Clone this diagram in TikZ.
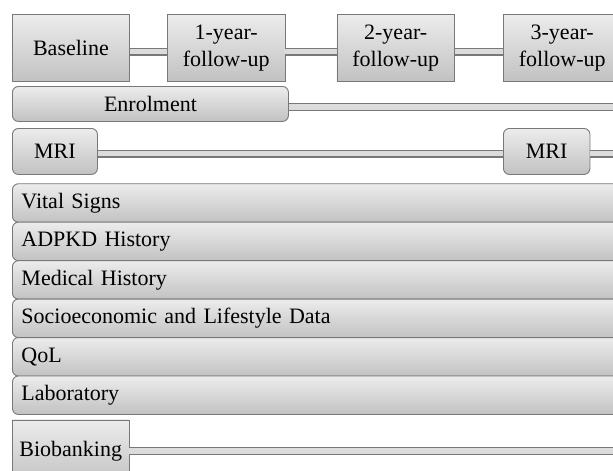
\documentclass[tikz,border=0pt]{standalone}
\usepackage{fontspec}
\setmainfont{Liberation Serif}
\definecolor{boxtop}{RGB}{236,236,236}
\definecolor{boxbot}{RGB}{194,194,194}
\definecolor{boxline}{RGB}{120,120,120}
\definecolor{barfill}{RGB}{220,220,220}
\begin{document}
\begin{tikzpicture}[x=1pt,y=-1pt,
  gbox/.style={draw=boxline, line width=0.9pt, top color=boxtop, bottom color=boxbot,
    anchor=north west, inner sep=0pt, align=center,
    font=\fontsize{22}{27}\selectfont},
  sqbox/.style={gbox},
  rbox/.style={gbox, rounded corners=6pt},
  rowbox/.style={gbox, rounded corners=6pt, text width=610pt, inner xsep=9pt, align=left,
    minimum height=38.5pt},
  bar/.style={draw=boxline, line width=1.3pt, double=barfill, double distance=5.4pt}
]
\useasboundingbox (0,0) rectangle (613,471);
\clip (0,0) rectangle (613,471);

% time points
\node[sqbox, minimum width=117pt, minimum height=66.5pt] (base) at (12,14) {Baseline};
\node[sqbox, minimum width=117.5pt, minimum height=66.5pt] (y1) at (167,14) {1-year-\\follow-up};
\node[sqbox, minimum width=117.5pt, minimum height=66.5pt] (y2) at (336.5,14) {2-year-\\follow-up};
\node[sqbox, minimum width=117.5pt, minimum height=66.5pt] (y3) at (503,14) {3-year-\\follow-up};

% enrolment
\node[rbox, minimum width=276pt, minimum height=35pt] (enrol) at (12,86) {Enrolment};
\coordinate (enrolEnd) at (630,107);

% MRI
\node[rbox, minimum width=85pt, minimum height=46pt] (mri1) at (12,128) {MRI};
\node[rbox, minimum width=86.5pt, minimum height=46pt] (mri2) at (503,128) {MRI};
\coordinate (mriEnd) at (630,153.5);

% rows
\node[rowbox] (vital) at (12,183.3) {Vital Signs};
\node[rowbox] (adpkd) at (12,221.7) {ADPKD History};
\node[rowbox] (medical) at (12,260.2) {Medical History};
\node[rowbox] (socio) at (12,298.6) {Socioeconomic and Lifestyle Data};
\node[rowbox] (qol) at (12,337.1) {QoL};
\node[rowbox] (lab) at (12,375.5) {Laboratory};

% biobanking
\node[sqbox, minimum width=116.5pt, minimum height=63pt] (bio) at (12,419.5) {Biobanking};
\coordinate (bioEnd) at (630,451);

% connectors
\draw[bar] ([yshift=-3.8pt]base.east) -- ([yshift=-3.8pt]base.east -| y1.west);
\draw[bar] ([yshift=-3.8pt]y1.east) -- ([yshift=-3.8pt]y1.east -| y2.west);
\draw[bar] ([yshift=-3.8pt]y2.east) -- ([yshift=-3.8pt]y2.east -| y3.west);
\draw[bar] (enrol.east |- enrolEnd) -- (enrolEnd);
\draw[bar] (mri1.east |- mriEnd) -- (mri2.west |- mriEnd);
\draw[bar] (mri2.east |- mriEnd) -- (mriEnd);
\draw[bar] (bio.east |- bioEnd) -- (bioEnd);
\end{tikzpicture}
\end{document}
